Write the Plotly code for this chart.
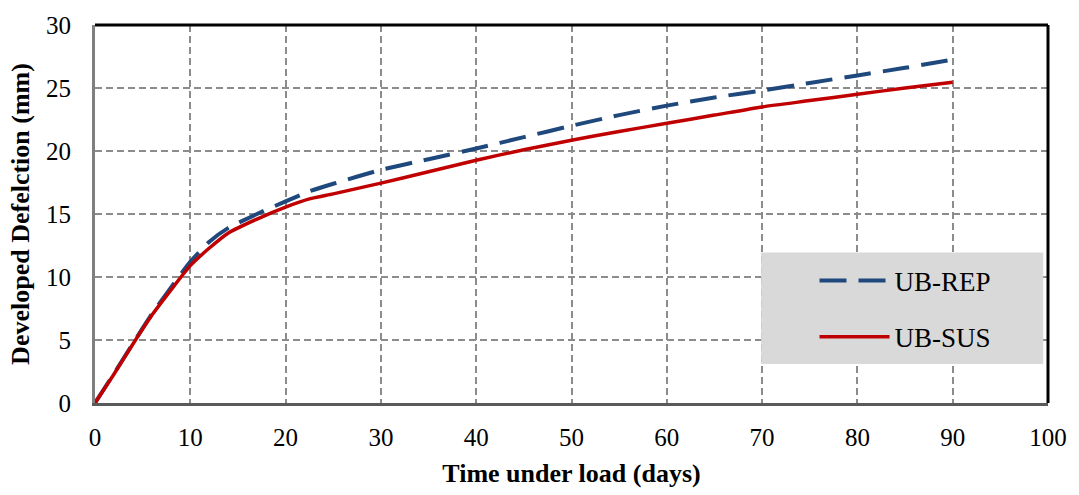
import plotly.graph_objects as go

days = [0, 2, 4, 6, 8, 10, 12, 14, 17, 20, 22.5, 25, 30, 35, 40, 45, 50, 55, 60, 65, 70, 75, 80, 85, 90]
ub_rep = [0, 2.35, 4.75, 7.1, 9.2, 11.2, 12.8, 13.9, 15.0, 16.0, 16.8, 17.4, 18.5, 19.35, 20.2, 21.1, 22.0,
          22.85, 23.6, 24.25, 24.8, 25.4, 26.0, 26.6, 27.25]
ub_sus = [0, 2.3, 4.7, 7.0, 9.0, 10.9, 12.3, 13.5, 14.6, 15.55, 16.2, 16.6, 17.45, 18.35, 19.27, 20.1, 20.85,
          21.55, 22.2, 22.85, 23.5, 24.0, 24.5, 25.0, 25.45]

FONT = "Liberation Serif, Times New Roman, serif"

fig = go.Figure()
fig.add_trace(go.Scatter(x=days, y=ub_rep, name="UB-REP", mode="lines",
                         line=dict(color="#1f497d", width=4, dash="27px,12px", shape="spline", smoothing=0.6),
                         legendgroup="a"))
fig.add_trace(go.Scatter(x=days, y=ub_sus, name="UB-SUS", mode="lines",
                         line=dict(color="#c00000", width=3.5, shape="spline", smoothing=0.6),
                         legendgroup="b"))

grid = dict(showgrid=True, gridcolor="#8c8c8c", gridwidth=1.6, griddash="7px,4px")

fig.update_xaxes(range=[0, 100], dtick=10, tick0=0, **grid, zeroline=False,
                 showline=True, linecolor="#5a5a5a", linewidth=3,
                 ticks="", ticklabelstandoff=10, tickfont=dict(family=FONT, size=25, color="black"),
                 title=dict(text="<b>Time under load (days)</b>", font=dict(family=FONT, size=26, color="black"), standoff=14))
fig.update_yaxes(range=[0, 30], dtick=5, tick0=0, **grid, zeroline=False,
                 showline=True, linecolor="#7f7f7f", linewidth=3,
                 ticks="", ticklabelstandoff=16, tickfont=dict(family=FONT, size=25, color="black"),
                 title=dict(text="<b>Developed Defelction (mm)</b>", font=dict(family=FONT, size=26, color="black"), standoff=9))

# top and right frame lines
fig.add_shape(type="line", xref="paper", yref="paper", x0=0, x1=1, y0=1, y1=1,
              line=dict(color="black", width=3), layer="above")
fig.add_shape(type="line", xref="paper", yref="paper", x0=1, x1=1, y0=0, y1=1,
              line=dict(color="black", width=3), layer="above")

fig.add_shape(type="rect", xref="paper", yref="paper", x0=0.699, x1=0.995, y0=0.103, y1=0.398,
              fillcolor="#d9d9d9", line=dict(width=0), layer="above")

fig.update_layout(
    width=1079, height=495,
    margin=dict(l=95, r=26, t=23, b=89),
    paper_bgcolor="white", plot_bgcolor="white",
    showlegend=True,
    legend=dict(x=0.755, y=0.3875, xanchor="left", yanchor="top", bgcolor="rgba(0,0,0,0)",
                font=dict(family=FONT, size=27, color="black"), tracegroupgap=18, itemwidth=70),
)

fig.write_html("out.html")
